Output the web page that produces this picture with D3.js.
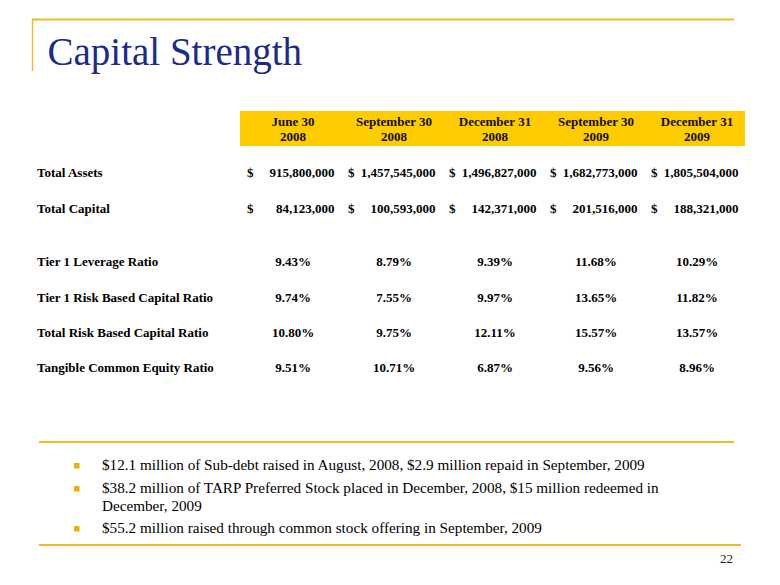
<!DOCTYPE html>
<html><head><meta charset="utf-8">
<script src="https://cdn.jsdelivr.net/npm/d3@7"></script>
<style>
html,body{margin:0;padding:0;background:#fff;}
svg{display:block;}
</style></head>
<body>
<svg id="c" width="780" height="585"></svg>
<script>
const title = "Capital Strength";
const periodsTop = ["June 30", "September 30", "December 31", "September 30", "December 31"];
const periodsYear = ["2008", "2008", "2008", "2009", "2009"];
const totalAssets = [915800000, 1457545000, 1496827000, 1682773000, 1805504000];
const totalCapital = [84123000, 100593000, 142371000, 201516000, 188321000];
const tier1Leverage = [9.43, 8.79, 9.39, 11.68, 10.29];
const tier1RiskBased = [9.74, 7.55, 9.97, 13.65, 11.82];
const totalRiskBased = [10.80, 9.75, 12.11, 15.57, 13.57];
const tangibleCommon = [9.51, 10.71, 6.87, 9.56, 8.96];
const dollarRowLabels = ["Total Assets", "Total Capital"];
const ratioRowLabels = ["Tier 1 Leverage Ratio", "Tier 1 Risk Based Capital Ratio", "Total Risk Based Capital Ratio", "Tangible Common Equity Ratio"];
const bullets = [
  ["$12.1 million of Sub-debt raised in August, 2008, $2.9 million repaid in September, 2009"],
  ["$38.2 million of TARP Preferred Stock placed in December, 2008, $15 million redeemed in", "December, 2009"],
  ["$55.2 million raised through common stock offering in September, 2009"]
];
const pageNumber = "22";

const svg = d3.select("#c");
const gold = "#F2B630";
const serif = "'Liberation Serif','Times New Roman',serif";

// decorative frame
svg.append("line").attr("x1",32).attr("x2",734).attr("y1",19.5).attr("y2",19.5)
  .attr("stroke",gold).attr("stroke-width",1.8);
svg.append("line").attr("x1",32.5).attr("x2",32.5).attr("y1",19).attr("y2",71)
  .attr("stroke",gold).attr("stroke-width",1.4);

svg.append("text").attr("x",47.5).attr("y",65).attr("font-family",serif)
  .attr("font-size",39).attr("fill","#1c2a8c").text(title);

// column scale
const cols = d3.range(periodsTop.length);
const x = d3.scalePoint().domain(cols).range([293, 697]);

// header band
svg.append("rect").attr("x",240).attr("y",111).attr("width",505).attr("height",35).attr("fill","#FFCC00");
const hdr = svg.append("g").attr("font-family",serif).attr("font-weight","bold")
  .attr("font-size",13).attr("fill","#140d00").attr("text-anchor","middle");
hdr.selectAll("text.t").data(cols).join("text").attr("class","t")
  .attr("x",d=>x(d)).attr("y",126).text(d=>periodsTop[d]);
hdr.selectAll("text.y").data(cols).join("text").attr("class","y")
  .attr("x",d=>x(d)).attr("y",141).text(d=>periodsYear[d]);

const body = svg.append("g").attr("font-family",serif).attr("font-weight","bold")
  .attr("font-size",13).attr("fill","#000");
const fmt = d3.format(",");

const dollarRows = [totalAssets, totalCapital];
const dollarY = [177, 213];
dollarRows.forEach((vals,i)=>{
  body.append("text").attr("x",37).attr("y",dollarY[i]).text(dollarRowLabels[i]);
  body.selectAll(null).data(vals).join("text")
    .attr("x",(d,j)=>x(j)-46).attr("y",dollarY[i]).text("$");
  body.selectAll(null).data(vals).join("text")
    .attr("x",(d,j)=>x(j)+41.5).attr("y",dollarY[i]).attr("text-anchor","end").text(d=>fmt(d));
});

const ratioRows = [tier1Leverage, tier1RiskBased, totalRiskBased, tangibleCommon];
const ratioY = [266, 302, 337, 372];
ratioRows.forEach((vals,i)=>{
  body.append("text").attr("x",37).attr("y",ratioY[i]).text(ratioRowLabels[i]);
  body.selectAll(null).data(vals).join("text")
    .attr("x",(d,j)=>x(j)).attr("y",ratioY[i]).attr("text-anchor","middle").text(d=>d.toFixed(2)+"%");
});

// bottom lines
svg.append("line").attr("x1",39).attr("x2",734).attr("y1",442).attr("y2",442).attr("stroke",gold).attr("stroke-width",2);
svg.append("line").attr("x1",39).attr("x2",741).attr("y1",545).attr("y2",545).attr("stroke",gold).attr("stroke-width",2);

// bullets
const bulletBase = [[470],[493,511],[533]];
const bg = svg.append("g").attr("font-family",serif).attr("font-size",15.2).attr("fill","#000");
bullets.forEach((lines,i)=>{
  bg.append("rect").attr("x",74).attr("y",bulletBase[i][0]-7).attr("width",5.5).attr("height",5.5).attr("fill","#F0AE00");
  lines.forEach((ln,k)=>{
    bg.append("text").attr("x",102).attr("y",bulletBase[i][k]).text(ln);
  });
});

svg.append("text").attr("x",733).attr("y",563).attr("text-anchor","end")
  .attr("font-family",serif).attr("font-size",13).attr("fill","#222").text(pageNumber);
</script>
</body></html>
